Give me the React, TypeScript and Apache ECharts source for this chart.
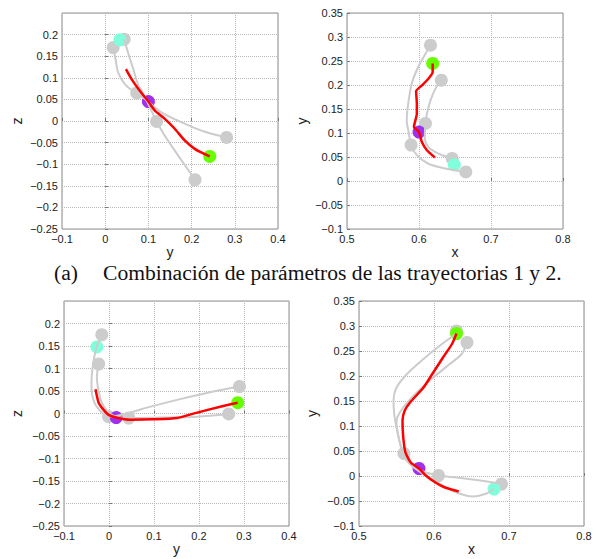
import React, { useEffect, useRef } from "react";
import * as echarts from "echarts";

// ---------- Subplot 1 (y–z), trajectories 1 & 2 ----------
const p1GrayA = [[0.0185,0.170],[0.024,0.143],[0.030,0.112],[0.046,0.085],[0.069,0.066],[0.092,0.051],[0.130,0.020],[0.177,-0.003],[0.231,-0.025],[0.281,-0.038]];
const p1GrayB = [[0.044,0.189],[0.053,0.158],[0.065,0.120],[0.076,0.085],[0.092,0.055],[0.107,0.024],[0.119,-0.001],[0.138,-0.034],[0.169,-0.080],[0.208,-0.136]];
const p1Red = [[0.048,0.120],[0.061,0.097],[0.080,0.070],[0.100,0.045],[0.115,0.024],[0.138,0.005],[0.161,-0.018],[0.184,-0.045],[0.208,-0.065],[0.242,-0.082]];
const p1Dots = [[0.0185,0.170],[0.044,0.189],[0.073,0.065],[0.119,-0.001],[0.281,-0.038],[0.208,-0.136]];
const p1Start = [[0.034,0.188]];
const p1Mid = [[0.100,0.045]];
const p1End = [[0.242,-0.082]];

// ---------- Subplot 2 (x–y) ----------
const p2GrayA = [[0.616,0.283],[0.609,0.265],[0.599,0.238],[0.590,0.203],[0.585,0.161],[0.583,0.126],[0.586,0.099],[0.589,0.074],[0.597,0.054],[0.613,0.036],[0.637,0.026],[0.665,0.019]];
const p2GrayB = [[0.631,0.210],[0.623,0.193],[0.616,0.168],[0.611,0.140],[0.609,0.120],[0.608,0.092],[0.613,0.071],[0.627,0.057],[0.646,0.047]];
const p2Red = [[0.619,0.245],[0.619,0.227],[0.613,0.213],[0.604,0.199],[0.596,0.187],[0.597,0.161],[0.597,0.140],[0.593,0.113],[0.600,0.102],[0.604,0.081],[0.611,0.064],[0.622,0.049]];
const p2Dots = [[0.616,0.283],[0.631,0.210],[0.609,0.120],[0.589,0.075],[0.646,0.047],[0.665,0.019]];
const p2Start = [[0.649,0.034]];
const p2Mid = [[0.600,0.102]];
const p2End = [[0.619,0.245]];

// ---------- Subplot 3 (y–z) ----------
const p3GrayA = [[-0.016,0.175],[-0.027,0.150],[-0.033,0.124],[-0.038,0.088],[-0.039,0.058],[-0.034,0.028],[-0.023,0.010],[-0.001,-0.007],[0.047,0.002],[0.084,0.013],[0.158,0.032],[0.232,0.049],[0.290,0.060]];
const p3GrayB = [[-0.023,0.110],[-0.027,0.080],[-0.023,0.050],[-0.016,0.024],[-0.004,0.006],[0.010,-0.005],[0.044,-0.010],[0.121,-0.009],[0.196,-0.007],[0.266,-0.001]];
const p3Red = [[-0.030,0.054],[-0.023,0.024],[-0.012,0.008],[-0.001,-0.003],[0.016,-0.009],[0.047,-0.014],[0.099,-0.013],[0.151,-0.010],[0.196,0.002],[0.247,0.015],[0.286,0.024]];
const p3Dots = [[-0.016,0.175],[-0.023,0.110],[-0.001,-0.007],[0.044,-0.010],[0.290,0.060],[0.266,-0.001]];
const p3Start = [[-0.027,0.148]];
const p3Mid = [[0.016,-0.009]];
const p3End = [[0.286,0.024]];

// ---------- Subplot 4 (x–y) ----------
const p4GrayA = [[0.630,0.285],[0.608,0.261],[0.586,0.234],[0.564,0.204],[0.550,0.177],[0.546,0.151],[0.547,0.124],[0.550,0.097],[0.555,0.064],[0.560,0.045],[0.568,0.024],[0.581,0.011],[0.606,0.001],[0.630,-0.003],[0.657,-0.008],[0.679,-0.013],[0.690,-0.016]];
const p4GrayB = [[0.644,0.267],[0.637,0.244],[0.621,0.224],[0.599,0.197],[0.577,0.167],[0.559,0.137],[0.551,0.117],[0.550,0.104],[0.552,0.084],[0.556,0.057],[0.562,0.034],[0.573,0.017],[0.589,0.001],[0.608,-0.016],[0.630,-0.033],[0.652,-0.041],[0.670,-0.035],[0.680,-0.026]];
const p4Red = [[0.630,0.285],[0.624,0.264],[0.612,0.237],[0.599,0.207],[0.586,0.177],[0.568,0.147],[0.561,0.131],[0.558,0.111],[0.559,0.077],[0.562,0.047],[0.569,0.027],[0.580,0.015],[0.589,0.001],[0.602,-0.013],[0.613,-0.022],[0.633,-0.031]];
const p4Dots = [[0.630,0.290],[0.644,0.267],[0.560,0.045],[0.606,0.001],[0.690,-0.016]];
const p4Start = [[0.680,-0.026]];
const p4Mid = [[0.580,0.015]];
const p4End = [[0.630,0.285]];

const caption = "Combinación de parámetros de las trayectorias 1 y 2.";
const captionTag = "(a)";

const FONT = "Liberation Sans, Arial, sans-serif";
const GRAY = "#cccccc";

const fmt = (v: number) => {
  const r = Math.round(v * 100) / 100;
  if (r === 0) return "0";
  return r < 0 ? "\u2212" + String(-r) : String(r);
};

function mkAxis(gi: number, min: number, max: number, interval: number, name: string, nameGap: number, isY: boolean, hideMax: boolean) {
  return {
    type: "value",
    gridIndex: gi,
    min,
    max,
    interval,
    name,
    nameLocation: "middle",
    nameGap,
    nameRotate: isY ? 90 : 0,
    nameTextStyle: { fontSize: 14, color: "#222", fontFamily: FONT },
    axisLine: { show: false },
    axisTick: { show: true, inside: true, length: 3, lineStyle: { color: "#777" } },
    axisLabel: { formatter: fmt, fontSize: 11, color: "#222", margin: 4, fontFamily: FONT, showMaxLabel: !hideMax },
    splitLine: { show: true, lineStyle: { type: "dotted", color: "#b8b8b8", width: 1 } },
  };
}

function panelSeries(gi: number, grayA: number[][], grayB: number[][], red: number[][], dots: number[][], s: number[][], m: number[][], e: number[][]) {
  const line = (data: number[][], color: string, width: number, smooth: number | boolean) => ({
    type: "line",
    xAxisIndex: gi,
    yAxisIndex: gi,
    data,
    showSymbol: false,
    smooth,
    lineStyle: { color, width },
    silent: true,
  });
  const sc = (data: number[][], color: string) => ({
    type: "scatter",
    xAxisIndex: gi,
    yAxisIndex: gi,
    data,
    symbolSize: 13,
    itemStyle: { color, opacity: 1 },
    silent: true,
  });
  return [
    line(grayA, GRAY, 2, 0.3),
    line(grayB, GRAY, 2, 0.3),
    sc(dots, GRAY),
    line(red, "#ff0000", 2.5, 0.2),
    sc(s, "#7fffdb"),
    sc(m, "#a030f0"),
    sc(e, "#66ff00"),
  ];
}

export default function App() {
  const ref = useRef<HTMLDivElement>(null);
  useEffect(() => {
    if (!ref.current) return;
    const chart = echarts.init(ref.current, null, { renderer: "svg" });
    const gridBase = { show: true, borderColor: "#8c8c8c", borderWidth: 1, backgroundColor: "#fff" };
    chart.setOption({
      animation: false,
      backgroundColor: "#fff",
      grid: [
        { ...gridBase, left: 62, top: 13, width: 216, height: 216 },
        { ...gridBase, left: 347, top: 13, width: 216, height: 216 },
        { ...gridBase, left: 64, top: 301, width: 225, height: 225 },
        { ...gridBase, left: 359, top: 301, width: 225, height: 225 },
      ],
      xAxis: [
        mkAxis(0, -0.1, 0.4, 0.1, "y", 13, false, false),
        mkAxis(1, 0.5, 0.8, 0.1, "x", 13, false, false),
        mkAxis(2, -0.1, 0.4, 0.1, "y", 14, false, false),
        mkAxis(3, 0.5, 0.8, 0.1, "x", 14, false, false),
      ],
      yAxis: [
        mkAxis(0, -0.25, 0.25, 0.05, "z", 38, true, true),
        mkAxis(1, -0.1, 0.35, 0.05, "y", 38, true, false),
        mkAxis(2, -0.25, 0.25, 0.05, "z", 40, true, true),
        mkAxis(3, -0.1, 0.35, 0.05, "y", 40, true, false),
      ],
      series: [
        ...panelSeries(0, p1GrayA, p1GrayB, p1Red, p1Dots, p1Start, p1Mid, p1End),
        ...panelSeries(1, p2GrayA, p2GrayB, p2Red, p2Dots, p2Start, p2Mid, p2End),
        ...panelSeries(2, p3GrayA, p3GrayB, p3Red, p3Dots, p3Start, p3Mid, p3End),
        ...panelSeries(3, p4GrayA, p4GrayB, p4Red, p4Dots, p4Start, p4Mid, p4End),
      ],
      graphic: [
        { type: "text", left: 54, top: 262, style: { text: captionTag, font: '21.6px "Liberation Serif", serif', fill: "#111" } },
        { type: "text", left: 103, top: 262, style: { text: caption, font: '21.6px "Liberation Serif", serif', fill: "#111" } },
      ],
    });
    return () => chart.dispose();
  }, []);
  return <div ref={ref} style={{ position: "fixed", left: 0, top: 0, width: 602, height: 559 }} />;
}
